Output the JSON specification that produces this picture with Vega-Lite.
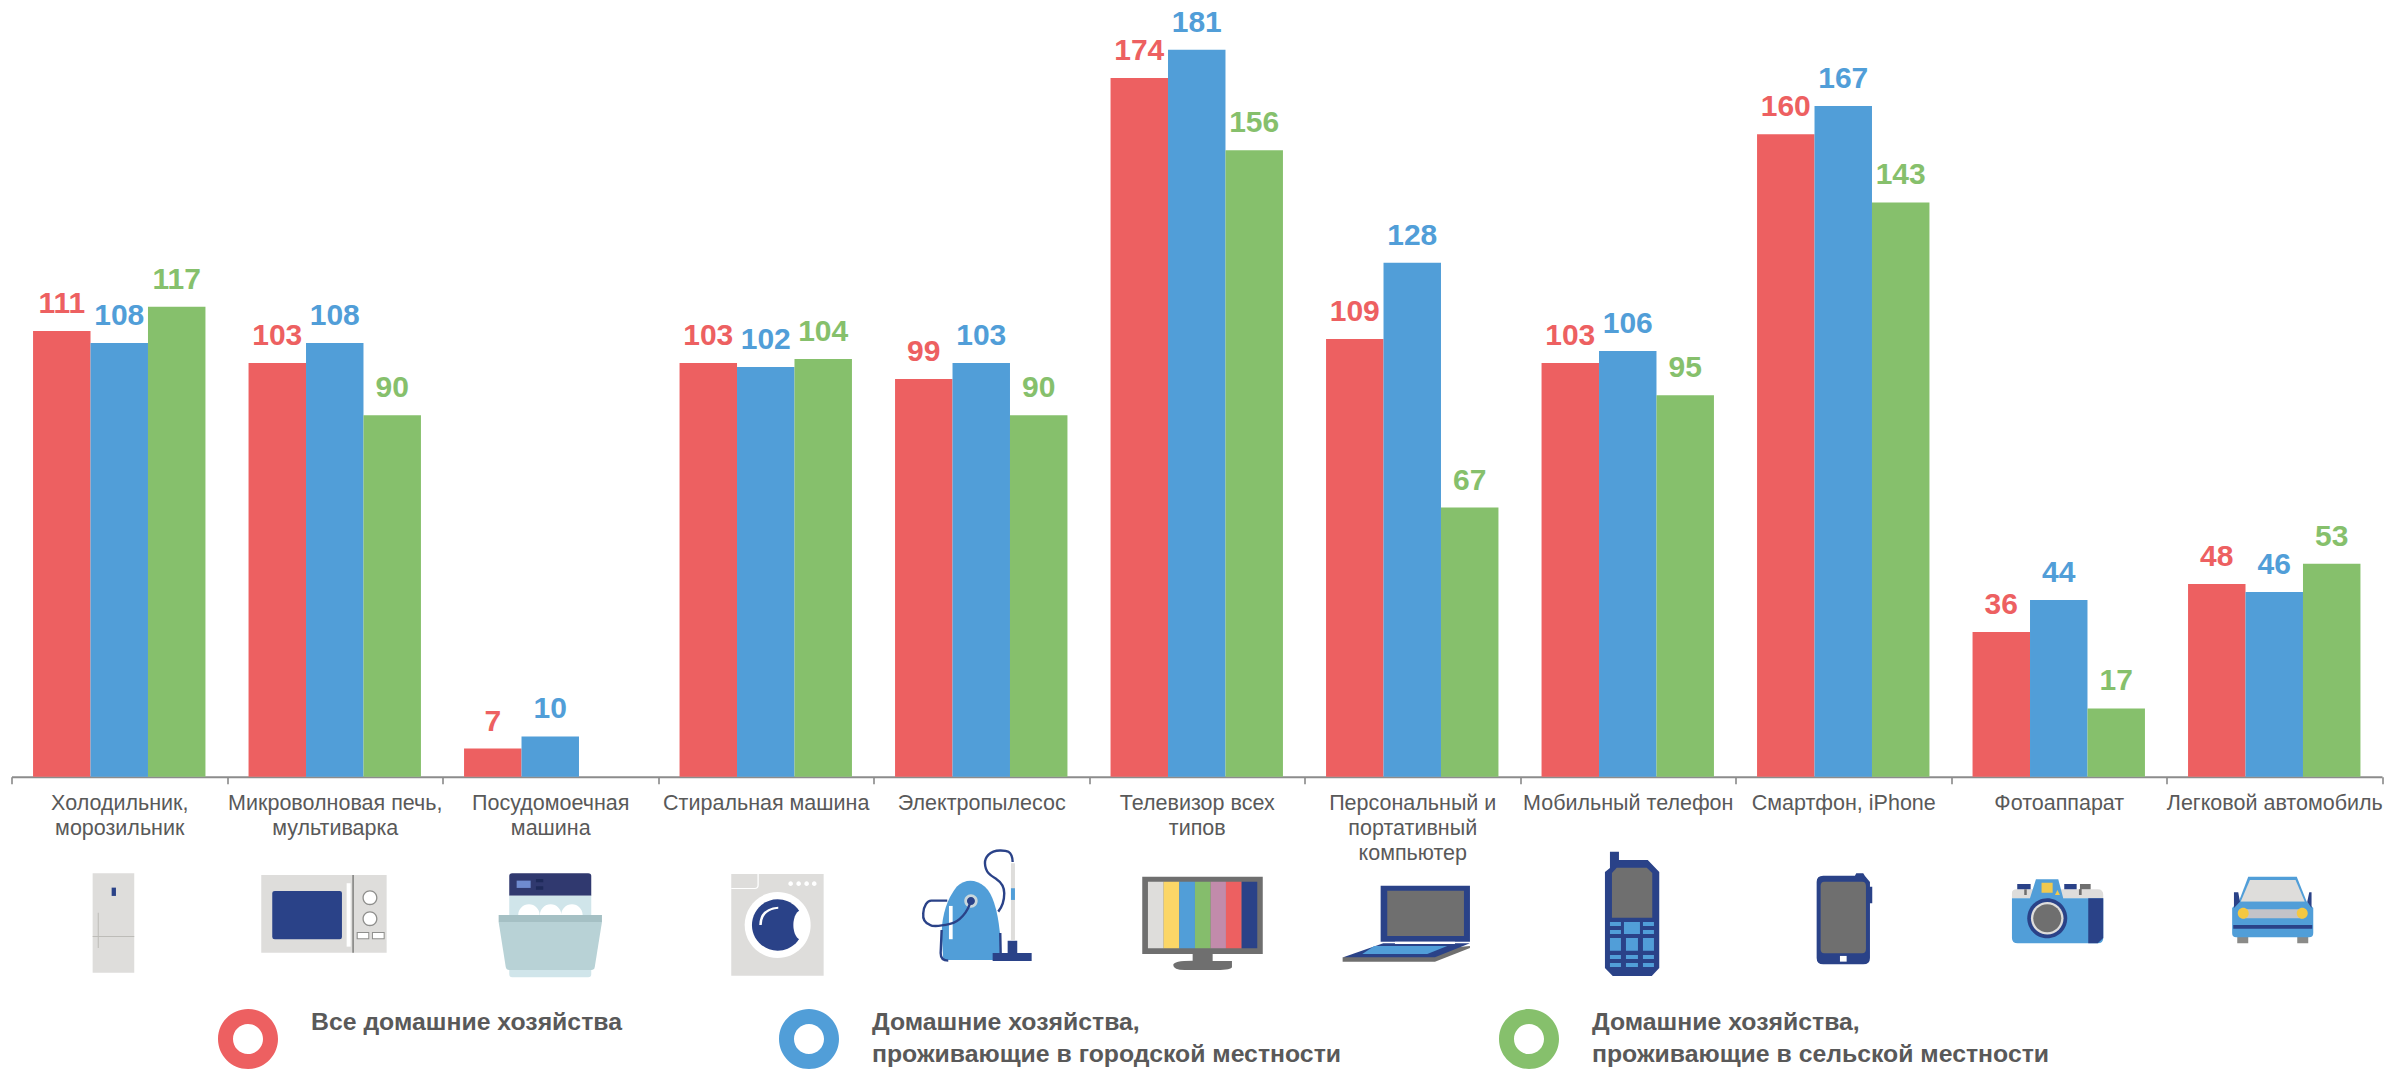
{
"$schema":"https://vega.github.io/schema/vega-lite/v6.json",
"autosize":{"type":"none"},
"padding":{"left":11.5,"right":2,"top":0,"bottom":0},
"width":2370.5,
"height":1071,
"background":"white",
"config":{"view":{"stroke":null},"font":"Liberation Sans"},
"datasets":{
"bars":[
{"category":"Холодильник,|морозильник","group":"Все домашние хозяйства","value":111},
{"category":"Холодильник,|морозильник","group":"Домашние хозяйства,|проживающие в городской местности","value":108},
{"category":"Холодильник,|морозильник","group":"Домашние хозяйства,|проживающие в сельской местности","value":117},
{"category":"Микроволновая печь,|мультиварка","group":"Все домашние хозяйства","value":103},
{"category":"Микроволновая печь,|мультиварка","group":"Домашние хозяйства,|проживающие в городской местности","value":108},
{"category":"Микроволновая печь,|мультиварка","group":"Домашние хозяйства,|проживающие в сельской местности","value":90},
{"category":"Посудомоечная|машина","group":"Все домашние хозяйства","value":7},
{"category":"Посудомоечная|машина","group":"Домашние хозяйства,|проживающие в городской местности","value":10},
{"category":"Стиральная машина","group":"Все домашние хозяйства","value":103},
{"category":"Стиральная машина","group":"Домашние хозяйства,|проживающие в городской местности","value":102},
{"category":"Стиральная машина","group":"Домашние хозяйства,|проживающие в сельской местности","value":104},
{"category":"Электропылесос","group":"Все домашние хозяйства","value":99},
{"category":"Электропылесос","group":"Домашние хозяйства,|проживающие в городской местности","value":103},
{"category":"Электропылесос","group":"Домашние хозяйства,|проживающие в сельской местности","value":90},
{"category":"Телевизор всех|типов","group":"Все домашние хозяйства","value":174},
{"category":"Телевизор всех|типов","group":"Домашние хозяйства,|проживающие в городской местности","value":181},
{"category":"Телевизор всех|типов","group":"Домашние хозяйства,|проживающие в сельской местности","value":156},
{"category":"Персональный и|портативный|компьютер","group":"Все домашние хозяйства","value":109},
{"category":"Персональный и|портативный|компьютер","group":"Домашние хозяйства,|проживающие в городской местности","value":128},
{"category":"Персональный и|портативный|компьютер","group":"Домашние хозяйства,|проживающие в сельской местности","value":67},
{"category":"Мобильный телефон","group":"Все домашние хозяйства","value":103},
{"category":"Мобильный телефон","group":"Домашние хозяйства,|проживающие в городской местности","value":106},
{"category":"Мобильный телефон","group":"Домашние хозяйства,|проживающие в сельской местности","value":95},
{"category":"Смартфон, iPhone","group":"Все домашние хозяйства","value":160},
{"category":"Смартфон, iPhone","group":"Домашние хозяйства,|проживающие в городской местности","value":167},
{"category":"Смартфон, iPhone","group":"Домашние хозяйства,|проживающие в сельской местности","value":143},
{"category":"Фотоаппарат","group":"Все домашние хозяйства","value":36},
{"category":"Фотоаппарат","group":"Домашние хозяйства,|проживающие в городской местности","value":44},
{"category":"Фотоаппарат","group":"Домашние хозяйства,|проживающие в сельской местности","value":17},
{"category":"Легковой автомобиль","group":"Все домашние хозяйства","value":48},
{"category":"Легковой автомобиль","group":"Домашние хозяйства,|проживающие в городской местности","value":46},
{"category":"Легковой автомобиль","group":"Домашние хозяйства,|проживающие в сельской местности","value":53}
],
"icons":[
{"category":"Холодильник,|морозильник","part":"fridge_body"},
{"category":"Холодильник,|морозильник","part":"fridge_handle"},
{"category":"Холодильник,|морозильник","part":"fridge_lines"},
{"category":"Микроволновая печь,|мультиварка","part":"mw_body"},
{"category":"Микроволновая печь,|мультиварка","part":"mw_window"},
{"category":"Микроволновая печь,|мультиварка","part":"mw_strip"},
{"category":"Микроволновая печь,|мультиварка","part":"mw_divider"},
{"category":"Микроволновая печь,|мультиварка","part":"mw_ctrl_outer"},
{"category":"Микроволновая печь,|мультиварка","part":"mw_ctrl_inner"},
{"category":"Посудомоечная|машина","part":"dw_top"},
{"category":"Посудомоечная|машина","part":"dw_display"},
{"category":"Посудомоечная|машина","part":"dw_small"},
{"category":"Посудомоечная|машина","part":"dw_light"},
{"category":"Посудомоечная|машина","part":"dw_plates"},
{"category":"Посудомоечная|машина","part":"dw_rim"},
{"category":"Посудомоечная|машина","part":"dw_door"},
{"category":"Стиральная машина","part":"wash_body"},
{"category":"Стиральная машина","part":"wash_ring"},
{"category":"Стиральная машина","part":"wash_drum"},
{"category":"Стиральная машина","part":"wash_bite"},
{"category":"Стиральная машина","part":"wash_marks"},
{"category":"Электропылесос","part":"vac_pipe"},
{"category":"Электропылесос","part":"vac_accent"},
{"category":"Электропылесос","part":"vac_body"},
{"category":"Электропылесос","part":"vac_strip"},
{"category":"Электропылесос","part":"vac_hub"},
{"category":"Электропылесос","part":"vac_navy"},
{"category":"Телевизор всех|типов","part":"tv_frame"},
{"category":"Телевизор всех|типов","part":"tv_s1"},
{"category":"Телевизор всех|типов","part":"tv_s2"},
{"category":"Телевизор всех|типов","part":"tv_s3"},
{"category":"Телевизор всех|типов","part":"tv_s4"},
{"category":"Телевизор всех|типов","part":"tv_s5"},
{"category":"Телевизор всех|типов","part":"tv_s6"},
{"category":"Телевизор всех|типов","part":"tv_s7"},
{"category":"Персональный и|портативный|компьютер","part":"lap_screen"},
{"category":"Персональный и|портативный|компьютер","part":"lap_display"},
{"category":"Персональный и|портативный|компьютер","part":"lap_base"},
{"category":"Персональный и|портативный|компьютер","part":"lap_keys"},
{"category":"Персональный и|портативный|компьютер","part":"lap_keys2"},
{"category":"Персональный и|портативный|компьютер","part":"lap_strip"},
{"category":"Мобильный телефон","part":"mob_body"},
{"category":"Мобильный телефон","part":"mob_screen"},
{"category":"Мобильный телефон","part":"mob_keys"},
{"category":"Смартфон, iPhone","part":"ph_body"},
{"category":"Смартфон, iPhone","part":"ph_screen"},
{"category":"Смартфон, iPhone","part":"ph_home"},
{"category":"Фотоаппарат","part":"cam_top"},
{"category":"Фотоаппарат","part":"cam_body"},
{"category":"Фотоаппарат","part":"cam_side"},
{"category":"Фотоаппарат","part":"cam_lens"},
{"category":"Фотоаппарат","part":"cam_ring"},
{"category":"Фотоаппарат","part":"cam_glass"},
{"category":"Фотоаппарат","part":"cam_yellow"},
{"category":"Фотоаппарат","part":"cam_btn"},
{"category":"Фотоаппарат","part":"cam_btn2"},
{"category":"Легковой автомобиль","part":"car_roof"},
{"category":"Легковой автомобиль","part":"car_wind"},
{"category":"Легковой автомобиль","part":"car_wheels"},
{"category":"Легковой автомобиль","part":"car_body"},
{"category":"Легковой автомобиль","part":"car_navy"},
{"category":"Легковой автомобиль","part":"car_grille"},
{"category":"Легковой автомобиль","part":"car_lights"}
],
"iconLines":[
{"category":"Электропылесос","part":"vac_lines"}
]
},
"encoding":{
"x":{"field":"category","type":"nominal","sort":null,
"scale":{"domain":["Холодильник,|морозильник","Микроволновая печь,|мультиварка","Посудомоечная|машина","Стиральная машина","Электропылесос","Телевизор всех|типов","Персональный и|портативный|компьютер","Мобильный телефон","Смартфон, iPhone","Фотоаппарат","Легковой автомобиль"],"paddingInner":0,"paddingOuter":0},
"axis":{"title":null,"offset":-294.3,"labelAngle":0,"labelExpr":"split(datum.label,'|')","labelFont":"Liberation Sans","labelFontSize":21.5,"labelColor":"#595959","labelLineHeight":25,"labelPadding":9,"labelLimit":400,"labelOverlap":false,"labelBaseline":"top","labelAlign":"center","tickBand":"extent","tickColor":"#808080","tickWidth":1.5,"tickSize":7,"domainColor":"#8c8c8c","domainWidth":2,"grid":false}}
},
"layer":[
{"data":{"name":"bars"},"mark":{"type":"bar"},
"encoding":{
"xOffset":{"field":"group","type":"nominal","sort":null,"scale":{"domain":["Все домашние хозяйства","Домашние хозяйства,|проживающие в городской местности","Домашние хозяйства,|проживающие в сельской местности"],"paddingInner":0,"paddingOuter":0.375}},
"y":{"field":"value","type":"quantitative","stack":null,"scale":{"domain":[-73.3,193.4],"nice":false,"zero":false},"axis":null},
"color":{"field":"group","type":"nominal","sort":null,
"scale":{"domain":["Все домашние хозяйства","Домашние хозяйства,|проживающие в городской местности","Домашние хозяйства,|проживающие в сельской местности"],"range":["#ed6061","#519ed8","#86c06c"]},
"legend":{"title":null,"orient":"none","legendX":206.5,"legendY":1009,"columns":3,"direction":"horizontal","symbolType":"M-1,0A1,1 0 1 1 1,0A1,1 0 1 1 -1,0ZM-0.5,0A0.5,0.5 0 1 0 0.5,0A0.5,0.5 0 1 0 -0.5,0Z","symbolSize":3600,"symbolStrokeWidth":0,"columnPadding":157,"labelOffset":33,"labelFont":"Liberation Sans","labelFontSize":24.8,"labelFontWeight":"bold","labelColor":"#595959","labelBaseline":"line-bottom","labelLimit":700,"labelExpr":"split(datum.label,'|')",
"encoding":{"labels":{"lineHeight":{"value":32}}}}}
}},
{"data":{"name":"bars"},"mark":{"type":"text","font":"Liberation Sans","fontWeight":"bold","fontSize":30,"baseline":"alphabetic","align":"center","dy":-18},
"encoding":{
"xOffset":{"field":"group","type":"nominal","sort":null,"scale":{"domain":["Все домашние хозяйства","Домашние хозяйства,|проживающие в городской местности","Домашние хозяйства,|проживающие в сельской местности"],"paddingInner":0,"paddingOuter":0.375}},
"y":{"field":"value","type":"quantitative"},
"text":{"field":"value","type":"quantitative"},
"color":{"field":"group","type":"nominal","sort":null}
}},
{"data":{"name":"icons"},"mark":{"type":"point","filled":true,"size":4,"opacity":1,"strokeWidth":0},
"encoding":{
"y":{"datum":-30.7,"type":"quantitative"},
"shape":{"field":"part","type":"nominal","sort":null,"legend":null,"scale":{
"domain":["fridge_body","fridge_handle","fridge_lines","mw_body","mw_window","mw_strip","mw_divider","mw_ctrl_outer","mw_ctrl_inner","dw_top","dw_display","dw_small","dw_light","dw_plates","dw_rim","dw_door","wash_body","wash_ring","wash_drum","wash_bite","wash_marks","vac_pipe","vac_accent","vac_body","vac_strip","vac_hub","vac_navy","tv_frame","tv_s1","tv_s2","tv_s3","tv_s4","tv_s5","tv_s6","tv_s7","lap_screen","lap_display","lap_base","lap_keys","lap_keys2","lap_strip","mob_body","mob_screen","mob_keys","ph_body","ph_screen","ph_home","cam_top","cam_body","cam_side","cam_lens","cam_ring","cam_glass","cam_yellow","cam_btn","cam_btn2","car_roof","car_wind","car_wheels","car_body","car_navy","car_grille","car_lights","vac_lines"],
"range":[
"M-26.6,-26.7H15V72.7H-26.6Z",
"M-7.6,-12.3H-3.3V-4H-7.6Z",
"M-26.6,36H15V37H-26.6ZM-21.5,12.7H-20.5V48H-21.5Z",
"M-73.5,-25H51.9V52.7H-73.5Z",
"M-60,-9H5Q7.2,-9 7.2,-7V37Q7.2,39.3 5,39.3H-60Q-62.5,39.3 -62.5,37V-7Q-62.5,-9 -60,-9Z",
"M11.9,-16.7H15.9V46.7H11.9Z",
"M17.5,-25H19.2V52.7H17.5Z",
"M27.7,-2.3A7.5,7.5 0 1 1 42.7,-2.3A7.5,7.5 0 1 1 27.7,-2.3ZM27.7,18.7A7.5,7.5 0 1 1 42.7,18.7A7.5,7.5 0 1 1 27.7,18.7ZM21.9,32H34.5V39.3H21.9ZM37.2,32H49.9V39.3H37.2Z",
"M29,-2.3A6.2,6.2 0 1 1 41.4,-2.3A6.2,6.2 0 1 1 29,-2.3ZM29,18.7A6.2,6.2 0 1 1 41.4,18.7A6.2,6.2 0 1 1 29,18.7ZM23,33H33.5V38.3H23ZM38.2,33H48.9V38.3H38.2Z",
"M-38,-26.7H38Q41,-26.7 41,-24V-4.3H-41V-24Q-41,-26.7 -38,-26.7Z",
"M-33.6,-19.3H-19.6V-12H-33.6Z",
"M-14.3,-21H-7V-17.7H-14.3ZM-14.3,-13.7H-7V-10.3H-14.3Z",
"M-41,-4.3H41V15H-41ZM-41,68H41V74Q41,77.3 38,77.3H-38Q-41,77.3 -41,74Z",
"M-32,15A10.7,10.7 0 0 1 -10.6,15ZM-10.3,15A10.7,10.7 0 0 1 11.1,15ZM11,15A10.7,10.7 0 0 1 32.4,15Z",
"M-51.6,15H51.7V22H-51.6Z",
"M-51.6,22H51.7L44.5,67Q44,70 41,70H-41Q-44,70 -44.5,67Z",
"M-34.5,-26H57.9V75.7H-34.5Z",
"M-21.1,25A33,33 0 1 1 44.9,25A33,33 0 1 1 -21.1,25Z",
"M-13.8,25A25.7,25.7 0 1 1 37.6,25A25.7,25.7 0 1 1 -13.8,25Z",
"M27.6,25A8.3,15 0 1 1 44.2,25A8.3,15 0 1 1 27.6,25Z",
"M-6.5,25Q-6,8 12.5,6.7L12.5,8.7Q-3.5,10 -4,25ZM22.6,-16.3A2.3,2.3 0 1 1 27.2,-16.3A2.3,2.3 0 1 1 22.6,-16.3ZM30.6,-16.3A2.3,2.3 0 1 1 35.2,-16.3A2.3,2.3 0 1 1 30.6,-16.3ZM38.6,-16.3A2.3,2.3 0 1 1 43.2,-16.3A2.3,2.3 0 1 1 38.6,-16.3ZM46.2,-16.3A2.3,2.3 0 1 1 50.8,-16.3A2.3,2.3 0 1 1 46.2,-16.3ZM-8.3,-26H-7V-15Q-7,-11 -11,-11H-34.5V-12H-11Q-8.3,-12 -8.3,-15Z",
"M29.7,-36.7H33.7V40H29.7Z",
"M29.7,-11.7H33.7V0H29.7Z",
"M-38,60L-39.6,33Q-39,5 -24.6,-13.3Q-11.3,-25 3.7,-13.3Q15,-3 18.7,33L18.7,60Z",
"M-32.3,6H-28.6V39.3H-32.3Z",
"M-17,1A6.7,6.7 0 1 1 -3.6,1A6.7,6.7 0 1 1 -17,1Z",
"M-14.3,1A4,4 0 1 1 -6.3,1A4,4 0 1 1 -14.3,1ZM26.4,40.7H36V53H50.4V61H11.4V53H26.4Z",
"M-54.5,-23.3H66V54H15.9V61H35.2V67Q35,70 20,70H-12Q-23.5,70 -23.5,65Q-23.5,60.7 -4.1,60.7V54H-54.5Z",
"M-48.8,-18.3H-33.1V48.3H-48.8Z",
"M-33.1,-18.3H-17.5V48.3H-33.1Z",
"M-17.5,-18.3H-1.8V48.3H-17.5Z",
"M-1.8,-18.3H13.9V48.3H-1.8Z",
"M13.9,-18.3H29.2V48.3H13.9Z",
"M29.2,-18.3H44.9V48.3H29.2Z",
"M44.9,-18.3H60.5V48.3H44.9Z",
"M-31.6,-14.3H57.7V41.7H-31.6Z",
"M-25,-9.3H51.7V36H-25Z",
"M-69.6,57.3L57.7,46V48L22.7,61.7H-69.6Z",
"M-29,43.3H57.7L22.7,57.3H-69Z",
"M-38,46H35L15,54H-50Z",
"M-17.3,41.7H42.7V44H-17.3Z",
"M-22.8,-28L-17.8,-32V-48.3H-8.8V-40H20L31.5,-28V68L24,76H-15L-22.8,68Z",
"M-15.8,17.7V-27L-11,-32.3H19L24.5,-27V17.7Z",
"M-17.8,22H-6.8V26H-17.8ZM15.2,22H26.2V26H15.2ZM-3.8,22H12.2V34H-3.8ZM-17.8,30H-6.8V34H-17.8ZM15.2,30H26.2V34H15.2ZM-17.8,38H-6.8V50.7H-17.8ZM-1.8,38H10.2V50.7H-1.8ZM15.2,38H26.2V50.7H15.2ZM-17.8,55H-6.8V59H-17.8ZM-1.8,55H10.2V59H-1.8ZM15.2,55H26.2V59H15.2ZM-17.8,63H-6.8V67H-17.8ZM-1.8,63H10.2V67H-1.8ZM15.2,63H26.2V67H15.2Z",
"M-20,-24.3H11.7L13,-26.7H20L21.7,-24L26.7,-18V-13.3H29V3.3H26.7V58Q26.7,64.3 20,64.3H-20Q-26.6,64.3 -26.6,58V-18Q-26.6,-24.3 -20,-24.3Z",
"M-19,-18.3H19Q22.7,-18.3 22.7,-14V49Q22.7,53.3 19,53.3H-19Q-22.6,53.3 -22.6,49V-14Q-22.6,-18.3 -19,-18.3Z",
"M-3.3,56H3.4V61.7H-3.3Z",
"M-46.8,-1.7V-7Q-46.8,-10.7 -42,-10.7H39Q44.5,-10.7 44.5,-5V-1.7Z",
"M-46.8,-1.7H-28.8L-22.8,-20.7H-0.5L4.5,-1.7H44.5V38Q44.5,43.3 39,43.3H-41Q-46.8,43.3 -46.8,38Z",
"M29.5,-1.7H44.5V38L39,43.3H29.5Z",
"M-31.5,18.3A20,20 0 1 1 8.5,18.3A20,20 0 1 1 -31.5,18.3Z",
"M-27.8,18.3A16.3,16.3 0 1 1 4.8,18.3A16.3,16.3 0 1 1 -27.8,18.3Z",
"M-25.5,18.3A14,14 0 1 1 2.5,18.3A14,14 0 1 1 -25.5,18.3Z",
"M-17.2,-17.3H-6.1V-7.3H-17.2ZM-1.3,-10L1.2,-5H-3.8Z",
"M-41.5,-16H-28.1V-10.7H-41.5ZM5.5,-16H17.9V-10.7H5.5Z",
"M21.2,-16H31.9V-10.7H21.2ZM-34.5,-10.7H-32V-5H-34.5ZM20.2,-10.7H22.9V-5H20.2Z",
"M-36,3L-26,-23.3H22.5L33,3Z",
"M-33.6,1.7L-24.3,-20H21.3L30.6,1.7Z",
"M-37,35H-26V43.3H-37ZM23,35H34V43.3H23Z",
"M-36,1.7H33L39,8V33Q39,37.3 35,37.3H-38Q-42.1,37.3 -42.1,33V8Z",
"M-40.3,-7.7H-36L-34.3,1.7L-40.3,8ZM33,1.7L35,-7.7H37.3V8ZM-41,25H38V28.7H-41Z",
"M-31,9.3H28V18.3H-31Z",
"M-36.5,13.3A5.5,5.5 0 1 1 -25.5,13.3A5.5,5.5 0 1 1 -36.5,13.3ZM22.5,13.3A5.5,5.5 0 1 1 33.5,13.3A5.5,5.5 0 1 1 22.5,13.3Z",
"M31.4,-38C31,-50 24,-49.5 18.7,-49.5C8,-49.5 3.5,-42 3.7,-36.7C4,-26 12,-23 15,-21C21,-17 23,-12 23,-6.7C23,2 20,8 17,11.7M-10.3,0C-13,12 -22,22 -31.3,24C-40,26 -48,27 -51.3,25C-57,23 -58.5,18 -58,13.3C-57.5,6 -54,0.7 -50,0.7L-34,0.7M-39.6,30L-40.6,53Q-40.6,60.7 -33,60.7M19,33L19.4,53"
]}},
"fill":{"field":"part","type":"nominal","sort":null,"legend":null,"scale":{
"domain":["fridge_body","fridge_handle","fridge_lines","mw_body","mw_window","mw_strip","mw_divider","mw_ctrl_outer","mw_ctrl_inner","dw_top","dw_display","dw_small","dw_light","dw_plates","dw_rim","dw_door","wash_body","wash_ring","wash_drum","wash_bite","wash_marks","vac_pipe","vac_accent","vac_body","vac_strip","vac_hub","vac_navy","tv_frame","tv_s1","tv_s2","tv_s3","tv_s4","tv_s5","tv_s6","tv_s7","lap_screen","lap_display","lap_base","lap_keys","lap_keys2","lap_strip","mob_body","mob_screen","mob_keys","ph_body","ph_screen","ph_home","cam_top","cam_body","cam_side","cam_lens","cam_ring","cam_glass","cam_yellow","cam_btn","cam_btn2","car_roof","car_wind","car_wheels","car_body","car_navy","car_grille","car_lights"],
"range":["#dedddb","#2a4288","#bdbcb8","#dedddb","#2a4288","#ffffff","#8a8a88","#8f8f8d","#ffffff","#30396f","#6f8bd0","#1e2a5a","#d0e5ea","#ffffff","#a5c0c4","#b8d2d6","#dedddb","#ffffff","#2a4288","#ffffff","#ffffff","#dedddb","#519ed8","#519ed8","#ffffff","#c9d7dc","#2a4288","#6f6f6f","#dedddb","#fbd667","#519ed8","#85bd6c","#c28bab","#ed6061","#2a4288","#2a4288","#6f6f6f","#6f6f6f","#2a4288","#519ed8","#ffffff","#2a4288","#6f6f6f","#519ed8","#2a4288","#6f6f6f","#ffffff","#dedddb","#519ed8","#2a4288","#2a4288","#dedddb","#6f6f6f","#f0c94e","#2a4288","#6f6f6f","#519ed8","#dedddb","#8a8a88","#519ed8","#2a4288","#c3c3c8","#f5c842"]}}
}},
{"data":{"name":"iconLines"},"mark":{"type":"point","filled":false,"size":4,"opacity":1,"stroke":"#2a4288","strokeWidth":2.4,"fill":null},
"encoding":{
"y":{"datum":-30.7,"type":"quantitative"},
"shape":{"field":"part","type":"nominal","sort":null,"legend":null}
}}
]
}
